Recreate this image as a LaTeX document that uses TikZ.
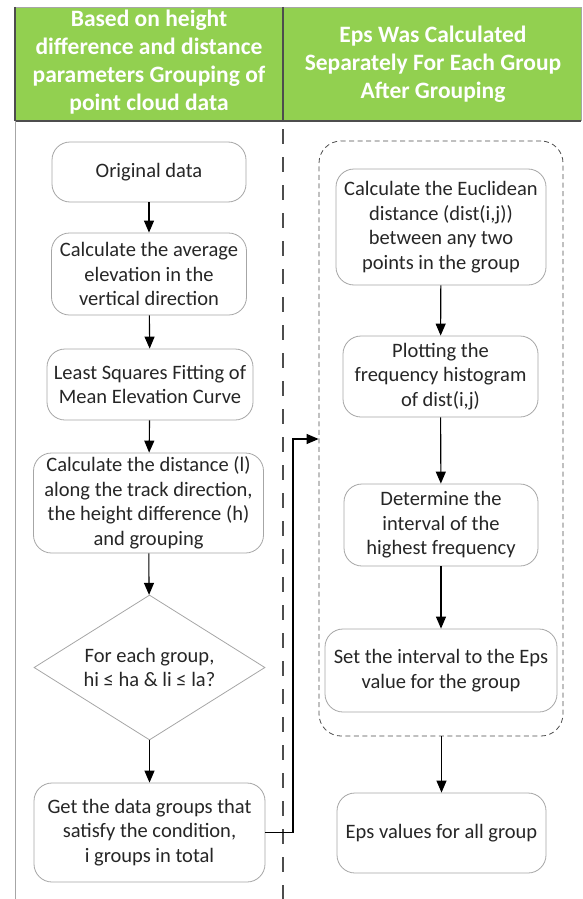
\documentclass[tikz,border=0pt]{standalone}
\usepackage{fontspec}
\setmainfont{Carlito}
\usetikzlibrary{shapes.geometric,arrows.meta}
\definecolor{hdrgreen}{HTML}{92D050}
\definecolor{boxgray}{HTML}{A6A6A6}
\definecolor{txt}{HTML}{262626}
\definecolor{lined}{HTML}{4D4D4D}
\tikzset{
  procbox/.style={draw=boxgray, line width=0.8pt, rounded corners=18pt, fill=white,
    text=txt, align=center, inner sep=0pt, font=\fontsize{20.5}{24.5}\selectfont},
  decision/.style={draw=boxgray, line width=0.8pt, diamond, aspect=1.6, text=txt,
    align=center, inner sep=0pt, font=\fontsize{20.5}{24.5}\selectfont},
  flow/.style={draw=black, line width=1.1pt, -{Triangle[length=12pt,width=10pt]}},
  hdrtext/.style={text=white, align=center, font=\bfseries\fontsize{23.5}{28}\selectfont},
  groupbox/.style={draw=lined, line width=0.8pt, dash pattern=on 5pt off 3.5pt, rounded corners=22pt}
}
\begin{document}
\begin{tikzpicture}[x=1pt,y=-1pt]
\useasboundingbox (0,0) rectangle (583,899);
% header
\fill[hdrgreen] (15,7) rectangle (581,121);
\draw[boxgray, line width=0.8pt] (15,7) -- (581,7) -- (581,121);
\draw[lined, line width=1.4pt] (15,121) -- (581,121);
\draw[lined, line width=1.4pt] (15,7) -- (15,121);
\draw[lined, line width=1.6pt] (283,7) -- (283,121);
\node[hdrtext] (h1) at (149,62) {Based on height\\difference and distance\\parameters Grouping of\\point cloud data};
\node[hdrtext] (h2) at (433,64) {Eps Was Calculated\\Separately For Each Group\\After Grouping};
% column lines
\draw[boxgray, line width=0.9pt] (15,121) -- (15,899);
\draw[lined, line width=1.6pt, dash pattern=on 15pt off 13pt, dash phase=-8pt] (283,121) -- (283,899);
% left column
\node[procbox, minimum width=194pt, minimum height=60pt] (orig) at (149,172) {Original data};
\node[procbox, minimum width=195pt, minimum height=82pt] (avg) at (149,274) {Calculate the average\\elevation in the\\vertical direction};
\node[procbox, minimum width=206pt, minimum height=71pt] (lsq) at (150,384.5) {Least Squares Fitting of\\Mean Elevation Curve};
\node[procbox, minimum width=230pt, minimum height=100pt] (dist) at (148.5,503) {Calculate the distance (l)\\along the track direction,\\the height difference (h)\\and grouping};
\node[decision, minimum width=231pt, minimum height=145pt] (cond) at (149.5,667.5) {For each group,\\hi ≤ ha \& li ≤ la?};
\node[procbox, minimum width=231pt, minimum height=99pt] (get) at (149.5,832.5) {Get the data groups that\\satisfy the condition,\\i groups in total};
% right column
\node[groupbox, minimum width=244pt, minimum height=595pt, inner sep=0pt] (grp) at (441,438.5) {};
\node[procbox, minimum width=210pt, minimum height=116pt] (euc) at (441,227) {Calculate the Euclidean\\distance (dist(i,j))\\between any two\\points in the group};
\node[procbox, minimum width=195pt, minimum height=81pt] (plot) at (440.5,376.5) {Plotting the\\frequency histogram\\of dist(i,j)};
\node[procbox, minimum width=194pt, minimum height=82pt] (det) at (441,525) {Determine the\\interval of the\\highest frequency};
\node[procbox, minimum width=232pt, minimum height=83pt] (set) at (441,670.5) {Set the interval to the Eps\\value for the group};
\node[procbox, minimum width=209pt, minimum height=80pt] (eps) at (441.5,833) {Eps values for all group};
% connectors
\draw[flow] (orig) -- (avg);
\draw[flow] (avg) -- (lsq);
\draw[flow] (lsq) -- (dist);
\draw[flow] (dist) -- (cond);
\draw[flow] (cond) -- (get);
\coordinate (bendlow) at (293,832.5);
\coordinate (bendhigh) at (293,439);
\draw[flow] (get.east) -- (bendlow) -- (bendhigh) -- (grp.west |- bendhigh);
\draw[flow] (euc) -- (plot);
\draw[flow] (plot) -- (det);
\draw[flow] (det) -- (set);
\draw[flow] (grp.south -| eps) -- (eps);
\end{tikzpicture}
\end{document}
